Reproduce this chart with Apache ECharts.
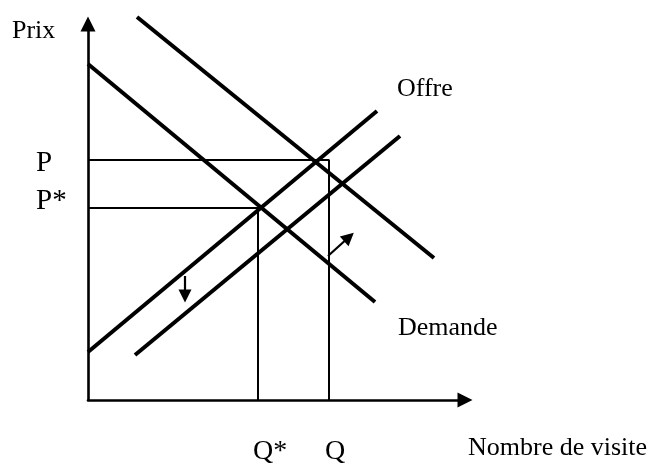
<!DOCTYPE html>
<html>
<head>
<meta charset="utf-8">
<script src="https://cdn.jsdelivr.net/npm/echarts@6/dist/echarts.min.js"></script>
<style>
  html, body { margin: 0; padding: 0; background: #fff; }
  #main { width: 654px; height: 466px; }
</style>
</head>
<body>
<div id="main"></div>
<script>
// curves, as [quantity, price] end points (1 unit ~ 1 px)
const demand1 = [[0, 336], [287, 98]]
const demand2 = [[49, 383], [346, 142]]
const supply1 = [[0, 48], [289, 289]]
const supply2 = [[47, 45], [312, 264]]

// equilibrium values
const qStar = 170
const qNew = 241
const pStar = 192
const pNew = 240

// shift arrows (end = centre of the head)
const arrowDown = [[97, 124], [97, 104]]
const arrowUp = [[240, 144], [261, 163]]

const chart = echarts.init(document.getElementById('main'))

const font = 'Liberation Serif, Times New Roman, serif'

function curve(data, width) {
  return {
    type: 'line',
    data,
    symbol: 'none',
    clip: false,
    silent: true,
    lineStyle: { color: '#000', width }
  }
}

function axis(max) {
  return {
    type: 'value',
    min: 0,
    max,
    axisLine: {
      show: true,
      onZero: false,
      symbol: ['none', 'triangle'],
      symbolSize: [15, 15],
      lineStyle: { color: '#000', width: 2.6 }
    },
    axisTick: { show: false },
    axisLabel: { show: false },
    splitLine: { show: false }
  }
}

function text(str, x, y, size) {
  return {
    type: 'text',
    left: x,
    top: y - size / 2,
    style: { text: str, font: size + 'px ' + font, fill: '#000' }
  }
}

const option = {
  animation: false,
  grid: { left: 88, top: 24, width: 377, height: 376 },
  xAxis: axis(377),
  yAxis: axis(376),
  series: [
    curve(demand1, 4),
    curve(demand2, 4),
    curve(supply1, 4),
    curve(supply2, 4),
    curve([[0, pNew], [qNew, pNew], [qNew, 0]], 2),
    curve([[0, pStar], [qStar, pStar], [qStar, 0]], 2),
    {
      type: 'lines',
      coordinateSystem: 'cartesian2d',
      silent: true,
      symbol: ['none', 'triangle'],
      symbolSize: 13,
      lineStyle: { color: '#000', width: 2.2, opacity: 1 },
      data: [{ coords: arrowDown }, { coords: arrowUp }]
    }
  ],
  graphic: [
    text('Prix', 12, 31, 26),
    text('P', 36, 163, 29),
    text('P*', 36, 201, 29),
    text('Q*', 253, 452, 28),
    text('Q', 325, 452, 28),
    text('Offre', 397, 89, 26),
    text('Demande', 398, 328, 26),
    text('Nombre de visite', 468, 448, 26)
  ]
}

chart.setOption(option)
</script>
</body>
</html>
